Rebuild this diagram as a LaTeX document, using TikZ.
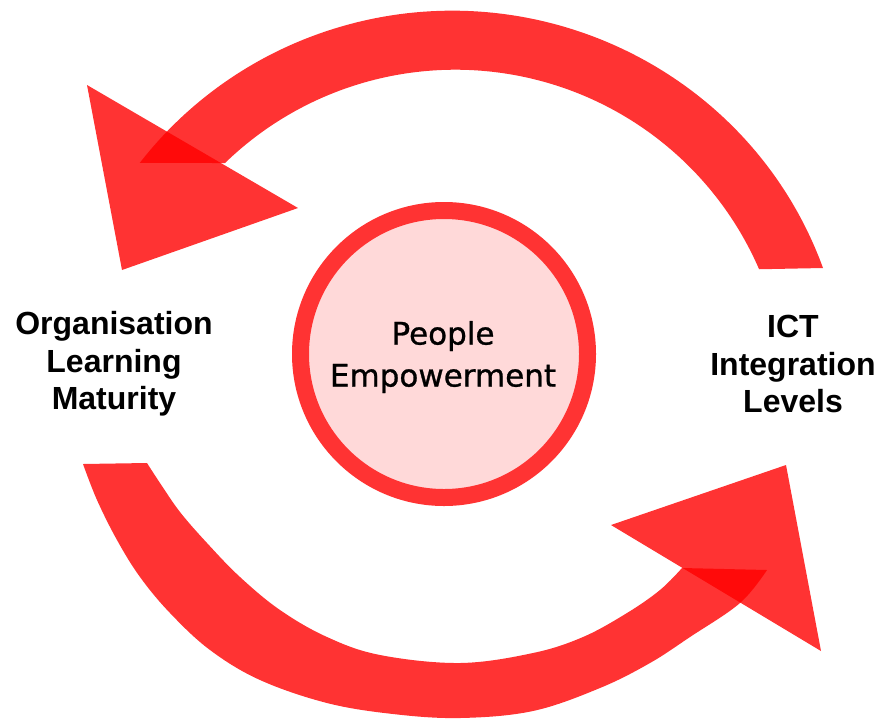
\documentclass[tikz,border=0pt]{standalone}
\usepackage{fontspec}
\setmainfont{Liberation Sans}
\newfontfamily\centrefont{DejaVu Sans}[FakeBold=0.9]
\definecolor{arrowred}{RGB}{255,0,0}
\definecolor{ringred}{RGB}{255,51,51}
\definecolor{pinkfill}{RGB}{255,217,217}
\tikzset{
  bandfill/.style={fill=arrowred, fill opacity=0.8},
  sidelabel/.style={align=center, text=black, font=\fontsize{32}{37.5}\selectfont\bfseries},
  centrelabel/.style={align=center, text=black, font=\centrefont\fontsize{31}{42}\selectfont},
  ringnode/.style={circle, draw=ringred, line width=17pt, fill=pinkfill, minimum size=287pt, inner sep=0pt},
}
\begin{document}
\begin{tikzpicture}[x=1pt,y=-1pt]
\useasboundingbox (0,0) rectangle (885,718);
\fill[white] (0,0) rectangle (885,718);

% top arrow: band from ICT over the top towards Organisation
\coordinate (topOutR) at (823,268);
\coordinate (topInL) at (225,163);
\fill[bandfill] (topOutR) arc[start angle=-19.8, end angle=-142.5, x radius=394, y radius=389]
   -- (topInL) arc[start angle=-134.1, end angle=-23.4, radius=331] -- cycle;
\coordinate (headA1) at (87,85);
\coordinate (headA2) at (298,208);
\coordinate (headA3) at (122,270);
\fill[bandfill] (headA1) -- (headA2) -- (headA3) -- cycle;

% bottom arrow: band from Organisation under the bottom towards ICT
\fill[bandfill] plot[smooth, tension=0.6] coordinates {(83,464) (97,500) (117,540) (140,577) (170,613) (210,650) (260,680) (327,703) (393,714) (460,718) (533,711) (600,688) (650,663) (690,637) (740,603) (767,570)}
   -- plot[smooth, tension=0.6] coordinates {(682,568) (660,590) (627,613) (583,637) (533,653) (460,663) (380,655) (327,637) (280,610) (240,577) (207,543) (180,512) (160,483) (147,463)} -- cycle;
\coordinate (headB1) at (611,525);
\coordinate (headB2) at (786,465);
\coordinate (headB3) at (821,651);
\fill[bandfill] (headB1) -- (headB2) -- (headB3) -- cycle;

% centre circle
\node[ringnode] (ring) at (444,354) {};
\node[centrelabel] (pe) at (443,357) {People\\Empowerment};

% side labels
\node[sidelabel] (olm) at (114,364) {Organisation\\Learning\\Maturity};
\node[sidelabel] (ict) at (793,364) {ICT\\Integration\\Levels};
\end{tikzpicture}
\end{document}
